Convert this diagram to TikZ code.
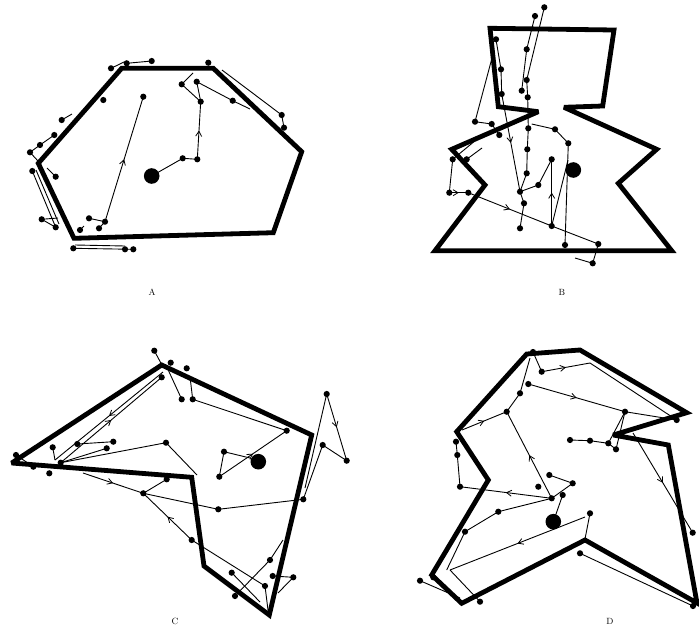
\documentclass[tikz,border=0pt]{standalone}
\usetikzlibrary{arrows.meta,decorations.markings}
\begin{document}
\begin{tikzpicture}[x=1pt,y=-1pt,
  poly/.style={line width=4.8pt,line join=miter,miter limit=3},
  traj/.style={line width=0.9pt},
  midarr/.style={postaction={decorate},decoration={markings,mark=at position 0.5 with {\arrow{Straight Barb[length=5pt,width=6pt,line width=0.8pt]}}}},
  lab/.style={font=\small}]
\useasboundingbox (0,0) rectangle (699,632);
% ===================== A =====================
\draw[poly] (121.7,68.3) -- (213.3,68.3) -- (301.7,151.7) -- (273.3,232.7) -- (74,238.3) -- (38.3,163.3) -- cycle;
\foreach \n/\p in {a2/{182.7,158.3},a3/{197.3,159.3},a4/{200.7,101.7},a5/{196.7,81.7},a6/{181.7,84.3},a7/{232.7,100.7},a8/{281.7,115},a9/{284,127.7},a10/{208.3,62.7},a11/{143.3,96.7},a12/{105,221.7},a13/{89,218.3},a14/{99,228.3},a15/{80,230},a16/{73.3,248.3},a17/{125,249.3},a18/{133.3,249.3},a19/{41.7,219.3},a20/{55.7,227.3},a21/{32.3,171},a22/{55.7,176.7},a23/{30,152.3},a24/{40,145},a25/{54.3,135},a26/{61.7,120},a27/{103.3,100},a28/{111,68.3},a29/{126.7,63.3},a30/{151.7,61}}
  {\coordinate (\n) at (\p);}
\coordinate (a1) at (151.7,176);
\draw[traj] (a1) -- (a2) -- (a3);
\draw[traj,midarr] (a3) -- (a4);
\draw[traj] (a4) -- (a5) -- (a7) -- (250,109);
\draw[traj] (a4) -- (a6) -- (193,73);
\draw[traj] (222,70) -- (a8) -- (a9);
\draw[traj,midarr] (a12) -- (a11);
\draw[traj] (a13) -- (a12);
\draw[traj] (a14) -- (a12);
\draw[traj] (a16) -- (a18);
\draw[traj] (75,245) -- (125,246);
\draw[traj] (a19) -- (a20);
\draw[traj] (a19) -- (58,218);
\draw[traj] (a21) -- (a20);
\draw[traj] (36,170) -- (59,224);
\draw[traj] (a22) -- (47,168);
\draw[traj] (a23) -- (a24) -- (a25);
\draw[traj] (a23) -- (38,161);
\draw[traj] (a26) -- (72,114);
\draw[traj] (a28) -- (124,62);
\draw[traj] (a29) -- (a30);
\draw[traj] (a15) -- (84,226);
\foreach \n in {a2,a3,a4,a5,a6,a7,a8,a9,a10,a11,a12,a13,a14,a15,a16,a17,a18,a19,a20,a21,a22,a23,a24,a25,a26,a27,a28,a29,a30}
  {\fill (\n) circle (3.1);}
\fill (a1) circle (7.8);
\node[lab] (la) at (152,292) {A};
% ===================== B =====================
\draw[poly] (490,28.3) -- (614,30) -- (602.7,106) -- (564,107.3) -- (656.7,149.3) -- (618.3,183.3) -- (671.7,250.7) -- (435,250.7) -- (485,185) -- (451.7,149.3) -- (538.3,111.7) -- (498.3,106.7) -- cycle;
\foreach \n/\p in {b1/{544.3,7.3},b2/{535,16},b3/{526.7,49.3},b4/{526.7,80},b5/{521.7,90.7},b6/{527.7,97.3},b7/{496,39.3},b8/{501,69.3},b9/{501.7,94},b10/{475,121.7},b11/{491.7,124},b12/{499.3,135},b13/{528.3,128.3},b14/{527.3,149.3},b15/{526.7,173.3},b16/{520,191.7},b17/{524,203.3},b18/{520,228.3},b19/{555,129.3},b20/{568.3,143.3},b21/{565,245},b22/{551.7,159.3},b23/{538.3,185},b24/{551.7,226},b25/{598.3,244},b26/{592.7,263.3},b27/{449.3,192.7},b28/{468.3,192.7},b29/{452.7,159.3},b30/{466.7,159.3}}
  {\coordinate (\n) at (\p);}
\coordinate (b0) at (573.3,170);
\draw[traj] (b1) -- (b4) -- (b6);
\draw[traj] (b2) -- (b3) -- (b5);
\draw[traj] (b7) -- (b8) -- (b9);
\draw[traj,midarr] (b9) -- (b16);
\draw[traj] (492,58) -- (b10);
\draw[traj] (b10) -- (b11) -- (b12);
\draw[traj] (b6) -- (b13) -- (b14) -- (b15) -- (b16) -- (b17) -- (b18);
\draw[traj] (531.7,124) -- (b19) -- (b20) -- (b21);
\draw[traj] (b16) -- (b23) -- (b22);
\draw[traj,midarr] (b24) -- (b22);
\draw[traj] (b24) -- (568,160);
\draw[traj] (b29) -- (b27);
\draw[traj,midarr] (b27) -- (b28);
\draw[traj] (b29) -- (476,140);
\draw[traj] (b30) -- (482,148);
\draw[traj,midarr] (b28) -- (b24);
\draw[traj] (b24) -- (b25) -- (b26) -- (575,258);
\foreach \n in {b1,b2,b3,b4,b5,b6,b7,b8,b9,b10,b11,b12,b13,b14,b15,b16,b17,b18,b19,b20,b21,b22,b23,b24,b25,b26,b27,b28,b29,b30}
  {\fill (\n) circle (3.1);}
\fill (b0) circle (7.8);
\node[lab] (lb) at (562,292) {B};
% ===================== C =====================
\draw[poly] (11.7,463) -- (161.7,365) -- (311.7,435) -- (269.3,615) -- (204,566) -- (191.7,477.3) -- cycle;
\foreach \n/\p in {c1/{154.3,350.7},c2/{170.7,362.7},c3/{186.7,368.3},c4/{161.7,377.3},c5/{181.7,399.3},c6/{192.7,399.3},c7/{286.7,430.7},c8/{224,451.7},c9/{219.3,476.7},c10/{326.7,394},c11/{346.7,460.7},c12/{322.7,445},c13/{303.3,499.3},c14/{218.3,509.3},c15/{143.3,493.3},c16/{166.7,479.3},c17/{191.7,540},c18/{231.7,572.7},c19/{235,596},c20/{270,560},c21/{265,586},c22/{272.7,576},c23/{293.3,577.3},c24/{16,455},c25/{33.3,466.7},c26/{49.3,473.3},c27/{60.7,462.7},c28/{52.7,447.3},c29/{77.3,444},c30/{113.3,441.7},c31/{106.7,448.3},c32/{166,442.7}}
  {\coordinate (\n) at (\p);}
\coordinate (c0) at (258.3,461.7);
\draw[traj] (c1) -- (163,367);
\draw[traj] (166.7,366.7) -- (c5);
\draw[traj] (190,376.7) -- (c6);
\draw[traj] (c6) -- (c7);
\draw[traj] (c9) -- (c8) -- (250,458);
\draw[traj,midarr] (c9) -- (c7);
\draw[traj,midarr] (c10) -- (c11);
\draw[traj] (c11) -- (c12) -- (c13);
\draw[traj] (c10) -- (305,488);
\draw[traj] (c13) -- (c14);
\draw[traj,midarr] (83,473) -- (c15);
\draw[traj] (c15) -- (c14);
\draw[traj] (c15) -- (c16);
\draw[traj,midarr] (c17) -- (c15);
\draw[traj] (c17) -- (c21) -- (268,610);
\draw[traj] (c18) -- (260,602);
\draw[traj] (c19) -- (c20) -- (283,540);
\draw[traj] (c22) -- (c23) -- (278,593);
\draw[traj] (c29) -- (c30);
\draw[traj] (c27) -- (c31);
\draw[traj] (c27) -- (c32) -- (197,475);
\draw[traj,midarr] (c27) -- (c4);
\draw[traj,midarr] (163,372) -- (55,460);
\draw[traj] (c28) -- (55,460);
\draw[traj] (c24) -- (c25);
\foreach \n in {c1,c2,c3,c4,c5,c6,c7,c8,c9,c10,c11,c12,c13,c14,c15,c16,c17,c18,c19,c20,c21,c22,c23,c24,c25,c26,c27,c28,c29,c30,c31,c32}
  {\fill (\n) circle (3.1);}
\fill (c0) circle (7.8);
\node[lab] (lc) at (175,621) {C};
% ===================== D =====================
\draw[poly] (526.7,354) -- (580,350) -- (686.7,412.7) -- (613.3,435) -- (668.3,445) -- (697,603) -- (585,540) -- (461.7,603.3) -- (431.7,575) -- (488.3,480) -- (456.7,431.7) -- cycle;
\foreach \n/\p in {d1/{533,352},d2/{541.7,371.7},d3/{528.3,384},d4/{520,393.3},d5/{506.7,411.7},d6/{625,411.7},d7/{676.7,420},d8/{570,440},d9/{590,440.7},d10/{608.3,443.3},d11/{616,449.3},d12/{456,441.7},d13/{457.3,455},d14/{460,486.7},d15/{538.3,486.7},d16/{549.3,475},d17/{572.7,483.3},d18/{551.7,498.3},d19/{562.7,495},d20/{498.3,511.7},d21/{465,531.7},d22/{590,513.3},d23/{420,580.7},d24/{480,601.7},d25/{433.3,577.3},d26/{580,553.3},d27/{692.7,532.7},d28/{693,606}}
  {\coordinate (\n) at (\p);}
\coordinate (d0) at (553.3,521.7);
\draw[traj] (d1) -- (d2);
\draw[traj,midarr] (d2) -- (590,363);
\draw[traj] (590,363) -- (d7);
\draw[traj,midarr] (d3) -- (d6);
\draw[traj] (d6) -- (d7);
\draw[traj] (d6) -- (d11);
\draw[traj] (d6) -- (d10);
\draw[traj,midarr] (462,430) -- (d5);
\draw[traj] (d5) -- (d4) -- (530,358);
\draw[traj,midarr] (d18) -- (d5);
\draw[traj] (d8) -- (d9) -- (d10) -- (d11);
\draw[traj] (d12) -- (d13) -- (d14);
\draw[traj,midarr] (d18) -- (d14);
\draw[traj] (d16) -- (d17) -- (d18);
\draw[traj] (d19) -- (d0);
\draw[traj] (d18) -- (d20) -- (d21) -- (446.7,570);
\draw[traj] (d22) -- (585,539);
\draw[traj,midarr] (585,517) -- (450,570);
\draw[traj] (450,570) -- (d24);
\draw[traj] (d23) -- (460,598);
\draw[traj] (d26) -- (d28);
\draw[traj,midarr] (633,433) -- (d27);
\foreach \n in {d1,d2,d3,d4,d5,d6,d7,d8,d9,d10,d11,d12,d13,d14,d15,d16,d17,d18,d19,d20,d21,d22,d23,d24,d25,d26,d27,d28}
  {\fill (\n) circle (3.1);}
\fill (d0) circle (7.8);
\node[lab] (ld) at (610,621) {D};
\end{tikzpicture}
\end{document}
